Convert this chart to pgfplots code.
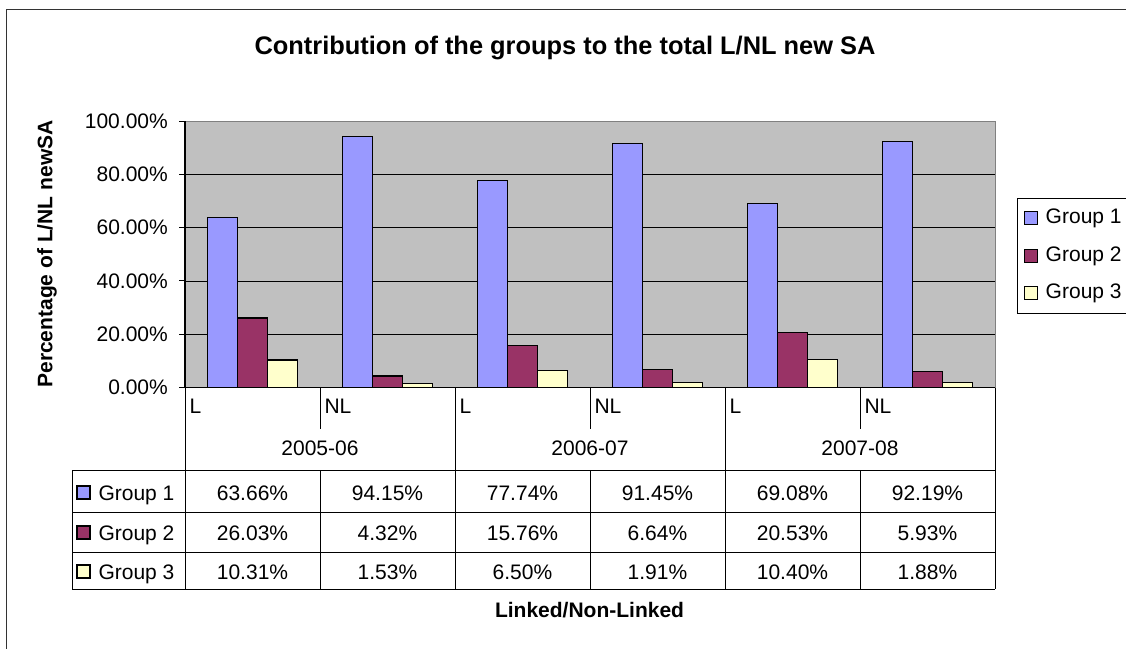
\documentclass[border=0pt]{standalone}
\usepackage{fontspec}
\setmainfont{Liberation Sans}
\usepackage{pgfplots}
\pgfplotsset{compat=1.18}
\definecolor{gA}{HTML}{9999FF}
\definecolor{gB}{HTML}{993366}
\definecolor{gC}{HTML}{FFFFCC}
\definecolor{plotbg}{HTML}{C0C0C0}
\newcommand{\fs}{\fontsize{21bp}{25bp}\selectfont}
\pgfplotsset{sqlegend/.style={legend image code/.code={\draw[##1, line width=1.2bp] (0bp,-6.5bp) rectangle (13bp,6.5bp);}}}
\begin{document}
\begin{tikzpicture}
\path[use as bounding box] (0,0) rectangle (1126bp,-649bp);
\begin{axis}[
 at={(185bp,-387.5bp)}, anchor=south west,
 scale only axis, width=810bp, height=266.5bp,
 xmin=-0.5, xmax=5.5, ymin=0, ymax=100,
 ybar=0pt, bar width=30bp,
 axis background/.style={fill=plotbg},
 axis line style={draw=gray, line width=1bp},
 xtick=\empty,
 ytick={0,20,40,60,80,100},
 yticklabels={0.00\%,20.00\%,40.00\%,60.00\%,80.00\%,100.00\%},
 tick align=outside, major tick length=6bp,
 ytick style={black, line width=1bp},
 yticklabel style={font=\fs, inner sep=0pt, xshift=-11bp},
 ymajorgrids, grid style={black, line width=0.8bp},
 tick pos=left,
 legend style={at={(axis description cs:1.0272,0.711)}, anchor=north west, draw=black, line width=1bp, font=\fs,
   nodes={inner sep=0pt, text height=15bp, text depth=4.5bp}, row sep=18bp, column sep=8bp,
   inner xsep=6bp, inner ysep=10bp, cells={anchor=west}},
 clip=false,
]
\addplot[fill=gA, draw=black, line width=1.3bp, sqlegend] coordinates {(0,63.66) (1,94.15) (2,77.74) (3,91.45) (4,69.08) (5,92.19)};
\addplot[fill=gB, draw=black, line width=1.3bp, sqlegend] coordinates {(0,26.03) (1,4.32) (2,15.76) (3,6.64) (4,20.53) (5,5.93)};
\addplot[fill=gC, draw=black, line width=1.3bp, sqlegend] coordinates {(0,10.31) (1,1.53) (2,6.50) (3,1.91) (4,10.40) (5,1.88)};
\draw[black, line width=1.2bp] (rel axis cs:0,0) -- (rel axis cs:1,0);
\draw[black, line width=1.2bp] (rel axis cs:0,0) -- (rel axis cs:0,1);
\legend{Group 1, Group 2, Group 3}
\end{axis}
\begin{scope}[x=1bp, y=-1bp, line width=1bp, every node/.style={inner sep=0pt}]
 \draw[line width=1.3bp, black!80] (6.5,700) -- (6.5,9.5) -- (1200,9.5);
 \node[font=\bfseries\fontsize{25.4bp}{30bp}\selectfont, anchor=base] at (565,54) {Contribution of the groups to the total L/NL new SA};
 \node[font=\bfseries\fs, rotate=90] at (47,254) {Percentage of L/NL newSA};
 \node[font=\bfseries\fs, anchor=base] at (589.5,617) {Linked/Non-Linked};
 \foreach \x in {185,455,725,995} \draw (\x,387.5) -- (\x,589);
 \foreach \x in {320,590,860} {\draw (\x,387.5) -- (\x,429); \draw (\x,470) -- (\x,589);}
 \draw (72,470) -- (995,470);
 \draw (72,512) -- (995,512);
 \draw (72,552) -- (995,552);
 \draw (72,589) -- (995,589);
 \draw (72,470) -- (72,589);
 \foreach \x in {189,459,729} \node[font=\fs, anchor=base west] at (\x,413.5) {L};
 \foreach \x in {324,594,864} \node[font=\fs, anchor=base west] at (\x,413.5) {NL};
 \node[font=\fs, anchor=base] at (320,455) {2005-06};
 \node[font=\fs, anchor=base] at (590,455) {2006-07};
 \node[font=\fs, anchor=base] at (860,455) {2007-08};
 \draw[fill=gA, line width=1.2bp] (77,486) rectangle (90,499);
 \draw[fill=gB, line width=1.2bp] (77,526) rectangle (90,539);
 \draw[fill=gC, line width=1.2bp] (77,565) rectangle (90,578);
 \node[font=\fs, anchor=base west] at (98,500) {Group 1};
 \node[font=\fs, anchor=base west] at (98,540) {Group 2};
 \node[font=\fs, anchor=base west] at (98,579) {Group 3};
 \foreach \v [count=\i from 0] in {63.66\%,94.15\%,77.74\%,91.45\%,69.08\%,92.19\%}
   \node[font=\fs, anchor=base] at (252.5+135*\i,500) {\v};
 \foreach \v [count=\i from 0] in {26.03\%,4.32\%,15.76\%,6.64\%,20.53\%,5.93\%}
   \node[font=\fs, anchor=base] at (252.5+135*\i,540) {\v};
 \foreach \v [count=\i from 0] in {10.31\%,1.53\%,6.50\%,1.91\%,10.40\%,1.88\%}
   \node[font=\fs, anchor=base] at (252.5+135*\i,579) {\v};
\end{scope}
\end{tikzpicture}
\end{document}
